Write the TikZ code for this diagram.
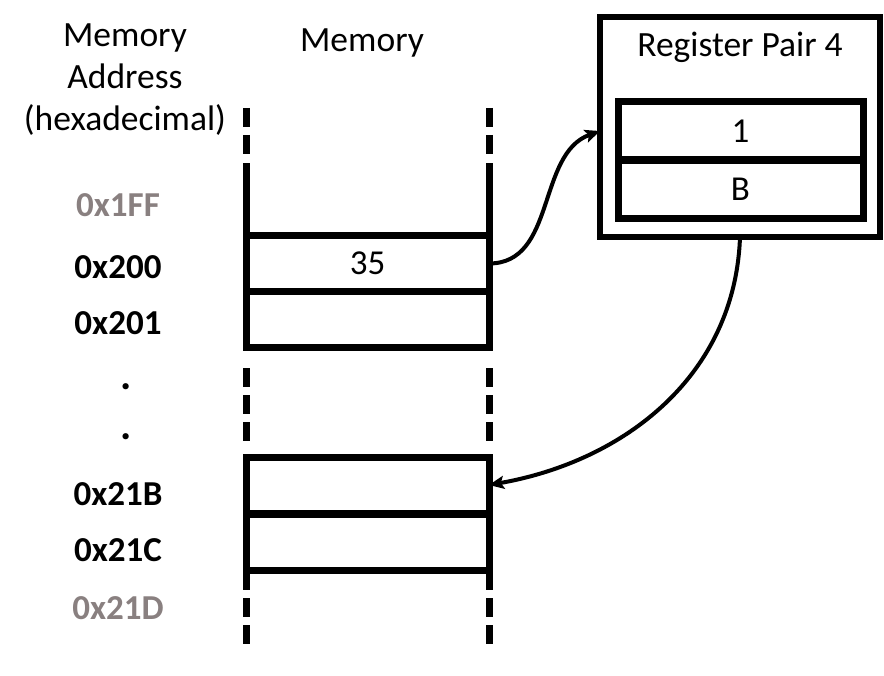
\documentclass[tikz,border=0pt]{standalone}
\usepackage{fontspec}
\setmainfont{Carlito}
\usetikzlibrary{arrows.meta}
\definecolor{addrgray}{RGB}{137,128,128}
\begin{document}
\begin{tikzpicture}[x=1bp,y=-1bp,
  wall/.style={line width=7bp},
  dwall/.style={line width=7bp,dash pattern=on 19bp off 8bp},
  cell/.style={draw,line width=7bp,minimum width=243bp,minimum height=56bp,inner sep=0pt,outer sep=0pt,font=\fontsize{35bp}{38bp}\selectfont},
  regcell/.style={draw,line width=7bp,minimum width=245bp,minimum height=58bp,inner sep=0pt,outer sep=0pt,font=\fontsize{35bp}{38bp}\selectfont},
  lbl/.style={font=\fontsize{35.5bp}{42bp}\selectfont,align=center,inner sep=0pt},
  addr/.style={font=\bfseries\fontsize{35bp}{38bp}\selectfont,inner sep=0pt},
  conn/.style={line width=4bp,-{Stealth[length=15bp,width=13bp,inset=3bp]}}
]
\useasboundingbox (0,0) rectangle (884,676);

% headers
\node[lbl] (hdraddr) at (125,80) {Memory\\Address\\(hexadecimal)};
\node[lbl] (hdrmem) at (362,43) {Memory};

% memory cells
\node[cell] (c200) at (367.5,263.5) {35};
\node[cell] (c201) at (367.5,319.5) {};
\node[cell] (c21B) at (367.5,485) {};
\node[cell] (c21C) at (367.5,542) {};

% walls
\draw[wall] (246,163) -- (246,236);
\draw[wall] (489,163) -- (489,236);
\draw[dwall] (246,108) -- (246,160);
\draw[dwall] (489,108) -- (489,160);
\draw[dwall] (246,368) -- (246,447);
\draw[dwall] (489,368) -- (489,447);
\draw[wall] (246,570) -- (246,590);
\draw[wall] (489,570) -- (489,590);
\draw[dwall] (246,598) -- (246,646);
\draw[dwall] (489,598) -- (489,646);

% addresses
\node[addr,text=addrgray] (a1FF) at (118,205) {0x1FF};
\node[addr] (a200) at (118,267) {0x200};
\node[addr] (a201) at (118,323) {0x201};
\node[addr,font=\bfseries\fontsize{42bp}{44bp}\selectfont] (dot1) at (126,387) {.};
\node[addr,font=\bfseries\fontsize{42bp}{44bp}\selectfont] (dot2) at (126,437) {.};
\node[addr] (a21B) at (118,494) {0x21B};
\node[addr] (a21C) at (118,550) {0x21C};
\node[addr,text=addrgray] (a21D) at (118,608) {0x21D};

% register pair
\node[draw,line width=6bp,minimum width=280bp,minimum height=220bp,inner sep=0pt,outer sep=0pt] (reg) at (740,127) {};
\node[lbl] (regt) at (740,47) {Register Pair 4};
\node[regcell] (r1) at (740.5,131) {1};
\node[regcell] (rB) at (740.5,189) {B};

% connectors
\draw[conn] (c200.east) to[out=0,in=200] (reg.west |- r1);
\draw[conn] (reg.south) to[out=-92,in=10] (c21B.east);
\end{tikzpicture}
\end{document}
